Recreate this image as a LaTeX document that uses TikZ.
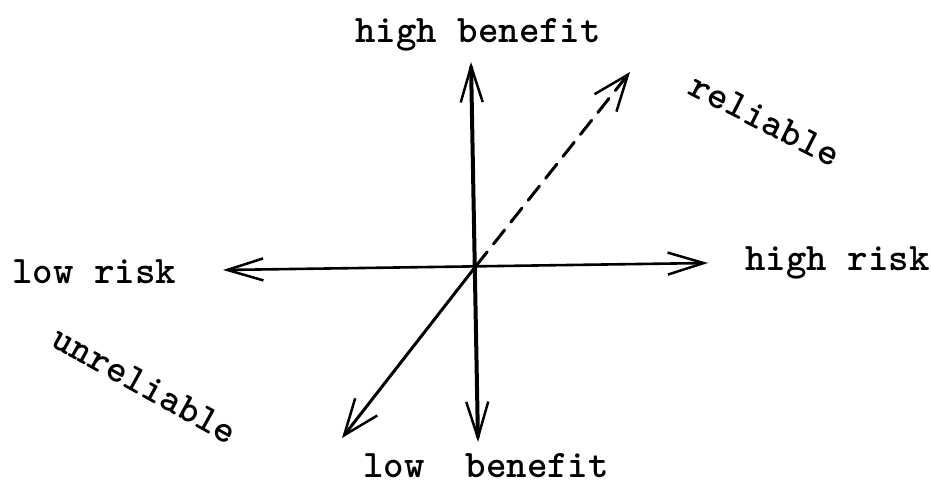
\documentclass[tikz,border=0pt]{standalone}
\usepackage{fontspec}
\usetikzlibrary{arrows.meta}

\begin{document}
\begin{tikzpicture}[
    x=1pt,y=-1pt,
    axis/.style={line width=3pt,line cap=round},
    tag/.style={font=\fontsize{39}{44}\selectfont\ttfamily\bfseries,inner sep=0pt},
    >={Straight Barb[length=36pt,width=22pt,line width=2.5pt]}
]
\useasboundingbox (0,0) rectangle (931,485);

% arrow ends
\coordinate (o) at (476,266);
\coordinate (top) at (471,62);
\coordinate (bottom) at (478,442);
\coordinate (left) at (223,270);
\coordinate (right) at (708,263);
\coordinate (up) at (630,72);
\coordinate (down) at (342,438);

\node[tag,anchor=base west] (highbenefit) at (355,42) {high benefit};
\node[tag,anchor=base west] (lowbenefit) at (363,477) {low\ \ benefit};
\node[tag,anchor=base west] (lowrisk) at (12,283) {low risk};
\node[tag,anchor=base west] (highrisk) at (745,270) {high risk};
\node[tag,rotate=-27] (reliable) at (765,120) {reliable};
\node[tag,rotate=-29] (unreliable) at (145,385) {unreliable};

\draw[axis,line width=4pt,<->] (bottom) -- (top);
\draw[axis,line width=2.6pt,<->] (left) -- (right);
\draw[axis,->,dash pattern=on 18pt off 10pt,>={Straight Barb[length=36pt,width=28pt,line width=2.5pt]}] (o) -- (up);
\draw[axis,->,>={Straight Barb[length=36pt,width=28pt,line width=2.5pt]}] (o) -- (down);
\end{tikzpicture}
\end{document}
